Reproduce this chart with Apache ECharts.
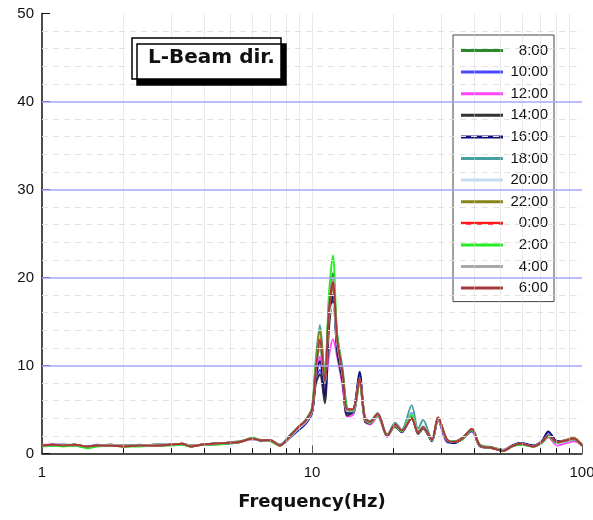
<!DOCTYPE html>
<html lang="en">
<head>
    <meta charset="UTF-8">
    <title>L-Beam dir.</title>
    <script src="https://cdn.jsdelivr.net/npm/echarts@6/dist/echarts.min.js"></script>
    <style>
        body{ margin: 0; background: #fff; }
        .box{ width: 593px; height: 520px; }
    </style>
</head>
<body>
    <div class="box"></div>
</body>
<script>
 // frequencies (Hz), shared by every series
 let freqs = [1, 1.1, 1.2, 1.32, 1.47, 1.6, 1.8, 2.0, 2.3, 2.6, 3.0, 3.3, 3.55, 3.9, 4.3, 4.8, 5.4, 6.0, 6.5, 7.0,
              7.6, 8.3, 8.9, 9.5, 10.0, 10.35, 10.7, 11.15, 11.55, 11.95, 12.4, 13.0, 13.5, 14.2, 15.0, 15.7, 16.4, 17.5, 19.0, 20.3,
              21.5, 23.4, 24.7, 25.8, 27.8, 29.3, 31.6, 33.8, 36.0, 39.1, 41.9, 46.8, 51, 55, 59, 66, 71, 75, 81, 88,
              93, 100]

 let names = ['8:00', '10:00', '12:00', '14:00', '16:00', '18:00', '20:00', '22:00', '0:00', '2:00', '4:00', '6:00']
 let colors = ['#2a8a2a', '#4848ff', '#ff44ff', '#333333', '#10107a', '#44a0a0', '#c4ddf2', '#868618', '#ff1a1a', '#22ee22', '#a8a8a8', '#a83838']

 let h8  = [1.0,0.9,1.0,0.9,0.7,0.9,1.0,0.8,0.9,1.0, 1.0,1.0,0.9,1.0,1.1,1.2,1.4,1.6,1.5,1.4, 1.0,2.1,2.9,3.6,4.8,9.5,12.0,7.5,17.0,20.5, 12.5,8.5,4.8,4.6,8.0,3.8,3.4,4.3,2.2,3.0, 2.5,4.3,2.2,2.8,1.5,3.9,1.5,1.4,1.8,2.7, 1.0,0.7,0.4,0.9,1.0,0.9,1.2,1.9,1.2,1.4, 1.6,1.0]
 let h10 = [0.9,1.0,1.0,0.9,0.8,1.0,0.9,0.9,0.9,1.0, 1.0,1.0,0.9,1.0,1.1,1.1,1.3,1.7,1.4,1.5, 0.9,1.8,2.6,3.4,4.6,8.5,9.5,6.0,15.0,17.5, 12.0,8.0,4.5,4.5,9.0,3.8,3.5,4.4,1.9,3.2, 2.4,4.6,2.3,3.0,1.4,3.8,1.3,1.2,1.7,2.5, 0.9,0.6,0.4,0.8,1.2,0.9,1.4,2.4,1.3,1.5, 1.6,1.0]
 let h12 = [1.0,1.0,0.9,1.0,0.8,0.9,1.0,0.9,0.9,0.9, 1.0,1.1,0.9,1.0,1.0,1.2,1.3,1.6,1.5,1.4, 1.0,2.0,2.8,3.7,4.9,9.0,11.0,7.0,11.0,13.0, 11.0,7.5,4.2,4.4,8.2,3.6,3.3,4.2,1.9,3.4, 2.6,4.2,2.3,2.9,1.5,3.8,1.4,1.3,1.6,2.6, 0.9,0.6,0.4,0.8,1.1,0.8,1.2,1.8,0.9,1.2, 1.4,1.1]
 let h14 = [0.9,1.0,1.0,0.9,0.8,0.9,0.9,0.9,0.9,1.0, 1.0,1.1,0.8,1.0,1.1,1.2,1.3,1.7,1.5,1.4, 0.9,1.9,2.8,3.5,4.6,8.0,9.0,5.7,14.0,18.0, 11.5,8.0,4.3,4.8,8.4,3.7,3.4,4.4,2.0,3.1, 2.5,4.0,2.3,2.9,1.5,4.0,1.5,1.3,1.6,2.7, 0.9,0.6,0.3,0.8,1.1,0.8,1.3,2.0,1.3,1.5, 1.6,0.9]
 let h16 = [0.9,1.0,0.9,1.0,0.8,0.9,1.0,0.9,0.9,0.9, 1.0,1.0,0.9,1.0,1.1,1.2,1.3,1.7,1.5,1.5, 0.9,1.9,2.7,3.5,4.7,8.8,10.5,6.5,15.5,18.0, 12.0,8.5,4.6,4.7,9.3,3.9,3.5,4.5,2.0,3.2, 2.4,4.2,2.4,3.0,1.4,3.9,1.4,1.2,1.7,2.6, 0.8,0.6,0.3,0.9,1.2,0.9,1.4,2.5,1.4,1.5, 1.7,0.9]
 let h18 = [1.0,0.9,1.0,1.0,0.8,0.9,0.9,0.9,1.0,0.9, 1.0,1.1,0.9,1.0,1.1,1.2,1.3,1.7,1.5,1.5, 1.0,2.1,3.0,3.9,5.2,11.0,14.6,9.0,16.5,19.0, 13.5,9.5,5.2,5.0,8.6,4.2,3.7,4.6,2.1,3.5, 2.7,5.5,2.8,3.8,1.6,4.0,1.6,1.3,1.7,2.8, 0.9,0.6,0.4,0.8,1.1,0.8,1.3,2.1,1.3,1.4, 1.6,1.0]
 let h20 = [0.9,1.0,1.0,0.9,0.9,0.9,1.0,0.9,0.9,1.0, 1.0,1.0,0.9,1.0,1.1,1.2,1.3,1.6,1.5,1.4, 0.9,1.9,2.8,3.6,4.8,9.5,12.5,8.0,15.5,17.0, 12.5,8.8,4.8,4.8,8.3,3.9,3.5,4.4,2.0,3.2, 2.5,4.5,2.5,3.2,1.5,3.9,1.5,1.3,1.7,2.7, 0.9,0.6,0.4,0.8,1.1,0.8,1.3,2.0,1.2,1.4, 1.6,1.0]
 let h22 = [0.9,1.0,0.9,1.0,0.8,0.9,0.9,0.9,0.9,0.9, 1.0,1.1,0.9,1.0,1.1,1.2,1.3,1.7,1.5,1.5, 0.9,2.0,3.0,3.8,5.0,10.5,14.0,8.8,16.0,19.0, 13.0,9.0,5.0,4.9,8.4,4.0,3.6,4.5,2.0,3.3, 2.6,4.1,2.4,3.0,1.6,4.1,1.6,1.3,1.7,2.8, 0.9,0.6,0.3,0.8,1.1,0.8,1.3,2.0,1.3,1.6, 1.8,1.0]
 let h0  = [0.9,1.0,0.9,1.0,0.8,0.9,0.9,0.8,0.9,0.9, 1.0,1.1,0.8,1.0,1.1,1.2,1.3,1.7,1.5,1.5, 0.9,2.0,3.0,3.8,5.0,10.0,13.0,8.5,16.0,19.5, 13.0,9.0,5.0,5.0,8.5,4.0,3.6,4.5,2.0,3.3, 2.6,4.0,2.4,3.0,1.6,4.1,1.6,1.3,1.7,2.8, 0.9,0.6,0.3,0.8,1.1,0.8,1.3,2.0,1.3,1.5, 1.7,0.9]
 let h2  = [0.8,0.9,0.8,0.9,0.6,0.8,0.9,0.8,0.8,0.9, 0.9,1.0,0.8,1.0,1.0,1.1,1.3,1.8,1.5,1.4, 0.9,2.0,3.0,3.8,5.1,10.5,12.5,9.0,18.0,22.5, 13.5,9.0,5.0,4.8,8.2,4.0,3.5,4.4,2.0,3.3, 2.5,4.4,2.4,3.0,1.5,4.0,1.6,1.3,1.6,2.7, 0.9,0.6,0.3,0.8,1.0,0.8,1.2,1.9,1.2,1.5, 1.6,0.9]
 let h4  = [0.9,1.0,0.9,1.0,0.8,0.9,0.9,0.9,0.9,0.9, 1.0,1.1,0.9,1.0,1.1,1.2,1.3,1.7,1.5,1.5, 0.9,2.0,2.9,3.7,4.9,9.8,12.5,8.0,16.5,20.0, 12.8,8.8,4.9,4.9,8.4,4.0,3.6,4.5,2.0,3.3, 2.6,4.1,2.4,3.0,1.6,4.0,1.6,1.3,1.7,2.8, 0.9,0.6,0.3,0.8,1.1,0.8,1.3,2.0,1.3,1.5, 1.7,0.9]
 let h6  = [0.9,1.0,0.9,1.0,0.8,0.9,0.9,0.8,0.9,0.9, 1.0,1.1,0.8,1.0,1.1,1.2,1.3,1.7,1.5,1.5, 0.9,2.0,3.0,3.8,5.0,9.8,12.8,8.2,16.2,19.5, 13.0,9.0,5.0,5.0,8.4,4.0,3.6,4.5,2.0,3.3, 2.6,4.0,2.4,3.0,1.6,4.1,1.6,1.3,1.7,2.8, 0.9,0.6,0.3,0.8,1.1,0.8,1.3,2.0,1.3,1.5, 1.7,0.9]
 let allValues = [h8, h10, h12, h14, h16, h18, h20, h22, h0, h2, h4, h6]

 // log minor positions on the frequency axis, levels on the amplitude axis
 let minorFreqs = [2, 3, 4, 5, 6, 7, 8, 9, 20, 30, 40, 50, 60, 70, 80, 90]
 let minorLevels = [2, 4, 6, 8, 12, 14, 16, 18, 22, 24, 26, 28, 32, 34, 36, 38, 42, 44, 46, 48]
 let majorLevels = [10, 20, 30, 40]
 let yTicks = [0, 10, 20, 30, 40, 50]

 let font = 'Liberation Sans, Arial, sans-serif'
 let boldFont = 'DejaVu Sans, Liberation Sans, sans-serif'
 let chart = echarts.init(document.querySelector('.box'))

 // grid lines + short minor ticks on the bottom axis
 let guideLines = []
 minorLevels.forEach(v => {
     guideLines.push({ yAxis: v, lineStyle: { color: '#e2e2e2', type: [6, 5], width: 1 } })
 })
 minorFreqs.forEach(f => {
     guideLines.push({ xAxis: f, lineStyle: { color: '#d6d6d6', type: 'dotted', width: 1 } })
     guideLines.push([
         { coord: [f, 0], lineStyle: { color: '#000', type: 'solid', width: 1 } },
         { coord: [f, 0.6] }
     ])
 })
 majorLevels.forEach(v => {
     guideLines.push({ yAxis: v, lineStyle: { color: '#a6a6ff', type: 'solid', width: 1.6 } })
 })

 let series = names.map((name, k) => ({
     name: name,
     type: 'line',
     data: freqs.map((f, i) => [f, allValues[k][i]]),
     symbol: 'none',
     smooth: 0.3,
     color: colors[k],
     lineStyle: { width: 1.9, color: colors[k] },
     z: 3,
     animation: false
 }))
 // guides on their own empty series, drawn under the curves
 series.unshift({
     name: 'guides',
     type: 'line',
     data: [],
     z: 1,
     silent: true,
     markLine: {
         silent: true,
         symbol: 'none',
         label: { show: false },
         animation: false,
         data: guideLines
     }
 })

 let option = {
    backgroundColor: '#fff',
    animation: false,
    grid: { left: 42, right: 11, top: 13.5, bottom: 66.5, containLabel: false, outerBoundsMode: 'none' },
    title: {
        text: 'L-Beam dir.',
        left: 132,
        top: 38,
        padding: [10, 6, 11, 16],
        backgroundColor: '#fff',
        borderColor: '#000',
        borderWidth: 1.5,
        shadowColor: '#000',
        shadowBlur: 0,
        shadowOffsetX: 5,
        shadowOffsetY: 6,
        textStyle: { fontFamily: boldFont, fontSize: 20, fontWeight: 'bold', color: '#111' }
    },
    legend: {
        data: names,
        orient: 'vertical',
        left: 453,
        top: 35,
        padding: [8, 6, 6, 8],
        itemGap: 6.6,
        itemWidth: 42,
        itemHeight: 3,
        icon: 'rect',
        lineStyle: { width: 3 },
        borderColor: '#444',
        borderWidth: 1,
        backgroundColor: '#fff',
        formatter: n => '{t|' + n + '}',
        textStyle: {
            fontFamily: font,
            fontSize: 15,
            color: '#111',
            rich: { t: { width: 40, align: 'right', fontSize: 15, lineHeight: 15, fontFamily: font } }
        }
    },
    xAxis: {
        type: 'log',
        logBase: 10,
        min: 1,
        max: 100,
        name: 'Frequency(Hz)',
        nameLocation: 'middle',
        nameGap: 40,
        nameTextStyle: { fontFamily: boldFont, fontSize: 18, fontWeight: 'bold', color: '#111' },
        axisLine: { lineStyle: { color: '#111', width: 1.5 } },
        axisTick: { inside: true, length: 8, lineStyle: { color: '#555' } },
        axisLabel: { fontFamily: font, fontSize: 15, color: '#111', margin: 12 },
        splitLine: { show: true, showMinLine: false, showMaxLine: false, lineStyle: { color: '#d6d6d6', type: 'dotted' } }
    },
    yAxis: {
        type: 'value',
        min: yTicks[0],
        max: yTicks[yTicks.length - 1],
        interval: 10,
        axisLine: { show: true, lineStyle: { color: '#111', width: 1.5 } },
        axisTick: { show: true, inside: true, length: 8, lineStyle: { color: '#111' } },
        minorTick: { show: true, splitNumber: 5, length: 4, lineStyle: { color: '#111' } },
        axisLabel: { fontFamily: font, fontSize: 15, color: '#111', margin: 8 },
        splitLine: { show: false }
    },
    series: series
 }
 chart.setOption(option)
</script>
</html>
